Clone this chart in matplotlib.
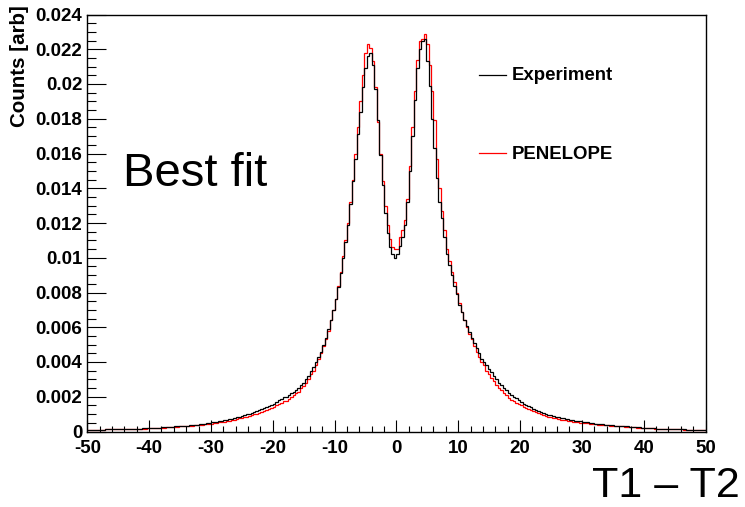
import numpy as np
import matplotlib
matplotlib.use("Agg")
import matplotlib.pyplot as plt
from matplotlib.lines import Line2D
from matplotlib.ticker import FixedLocator, MultipleLocator

# ---------------- data ----------------
x_range = (-50.0, 50.0)
n_bins = 250

experiment = [
    # -50 ... -39.2
    0.00010, 0.00010, 0.00010, 0.00011, 0.00011, 0.00011, 0.00011, 0.00012, 0.00012, 0.00012,
    0.00012, 0.00013, 0.00013, 0.00013, 0.00014, 0.00014, 0.00015, 0.00015, 0.00016, 0.00016,
    0.00017, 0.00017, 0.00018, 0.00018, 0.00019, 0.00020, 0.00020, 0.00021,
    # -38.8 ... -30.4
    0.00022, 0.00023, 0.00024, 0.00025, 0.00026, 0.00027, 0.00028, 0.00029, 0.00030, 0.00031,
    0.00032, 0.00033, 0.00034, 0.00036, 0.00037, 0.00039, 0.00040, 0.00042, 0.00044, 0.00046,
    0.00048, 0.00050,
    # -30.0 ... -20.4
    0.00052, 0.00054, 0.00056, 0.00059, 0.00062, 0.00065, 0.00068, 0.00071, 0.00074, 0.00078,
    0.00082, 0.00086, 0.00090, 0.00094, 0.00098, 0.00103, 0.00108, 0.00113, 0.00118, 0.00123,
    0.00128, 0.00134, 0.00140, 0.00146, 0.00153,
    # -20.0 ... -14.4
    0.00160, 0.00170, 0.00180, 0.00188, 0.00196, 0.00200, 0.00210, 0.00220, 0.00230, 0.00240,
    0.00250, 0.00270, 0.00280, 0.00300, 0.00320,
    # -14.0 ... -9.6
    0.0035, 0.0037, 0.0040, 0.0043, 0.0046, 0.0050, 0.0054, 0.0059, 0.0064, 0.0070,
    0.0076, 0.0083,
    # -9.2 ... -0.4
    0.0091, 0.0100, 0.0109, 0.0119, 0.0131, 0.0144, 0.0157, 0.0171, 0.0184, 0.0198,
    0.0209, 0.0216, 0.0218, 0.0211, 0.0197, 0.0179, 0.0159, 0.0142, 0.0126, 0.0114,
    0.0106, 0.0102, 0.0100,
    # 0.0 ... 9.6
    0.0102, 0.0107, 0.0112, 0.0119, 0.0132, 0.0150, 0.0170, 0.0191, 0.0209, 0.0220,
    0.0225, 0.0226, 0.0213, 0.0199, 0.0180, 0.0163, 0.0146, 0.0132, 0.0123, 0.0112,
    0.0102, 0.0096, 0.0090, 0.0084, 0.0079,
    # 10.0 ... 19.6
    0.0073, 0.0069, 0.0064, 0.0061, 0.0057, 0.0054, 0.0051, 0.0048, 0.0045, 0.0042,
    0.0040, 0.0038, 0.0036, 0.0034, 0.0032, 0.0030, 0.0028, 0.0027, 0.0025, 0.0024,
    0.0022, 0.0021, 0.0020, 0.0019, 0.0018,
    # 20.0 ... 29.6
    0.00170, 0.00160, 0.00153, 0.00146, 0.00140, 0.00132, 0.00126, 0.00120, 0.00114, 0.00108,
    0.00102, 0.00097, 0.00093, 0.00089, 0.00085, 0.00082, 0.00079, 0.00076, 0.00073, 0.00070,
    0.00067, 0.00064, 0.00062, 0.00060, 0.00058,
    # 30.0 ... 40.0
    0.00056, 0.00054, 0.00052, 0.00050, 0.00048, 0.00046, 0.00044, 0.00042, 0.00041, 0.00040,
    0.00038, 0.00037, 0.00036, 0.00034, 0.00033, 0.00032, 0.00031, 0.00030, 0.00029, 0.00028,
    0.00027, 0.00026, 0.00025, 0.00024, 0.00023, 0.00022,
    # 40.4 ... 49.6
    0.00021, 0.00020, 0.00019, 0.00018, 0.00017, 0.00016, 0.00016, 0.00015, 0.00015, 0.00014,
    0.00014, 0.00013, 0.00013, 0.00012, 0.00012, 0.00012, 0.00011, 0.00011, 0.00011, 0.00010,
    0.00010, 0.00010, 0.00010, 0.00010,
]

penelope = [
    # -50 ... -39.2
    0.00010, 0.00010, 0.00010, 0.00011, 0.00011, 0.00011, 0.00011, 0.00012, 0.00012, 0.00012,
    0.00012, 0.00012, 0.00013, 0.00013, 0.00013, 0.00013, 0.00014, 0.00014, 0.00015, 0.00015,
    0.00016, 0.00016, 0.00017, 0.00017, 0.00018, 0.00018, 0.00019, 0.00019,
    # -38.8 ... -30.4
    0.00020, 0.00021, 0.00022, 0.00023, 0.00024, 0.00025, 0.00026, 0.00027, 0.00028, 0.00029,
    0.00029, 0.00030, 0.00031, 0.00033, 0.00034, 0.00035, 0.00036, 0.00038, 0.00040, 0.00041,
    0.00043, 0.00045,
    # -30.0 ... -20.4
    0.00046, 0.00048, 0.00049, 0.00052, 0.00055, 0.00057, 0.00060, 0.00062, 0.00065, 0.00068,
    0.00072, 0.00075, 0.00079, 0.00082, 0.00085, 0.00090, 0.00094, 0.00098, 0.00103, 0.00107,
    0.00111, 0.00117, 0.00122, 0.00127, 0.00133,
    # -20.0 ... -14.4
    0.00141, 0.00150, 0.00159, 0.00166, 0.00173, 0.00178, 0.00188, 0.00198, 0.00208, 0.00219,
    0.00230, 0.00250, 0.00260, 0.00280, 0.00300,
    # -14.0 ... -9.6
    0.0033, 0.0035, 0.0038, 0.0042, 0.0045, 0.0049, 0.0053, 0.0058, 0.0064, 0.0070,
    0.0076, 0.0084,
    # -9.2 ... -0.4
    0.0092, 0.0101, 0.0110, 0.0120, 0.0132, 0.0145, 0.0160, 0.0175, 0.0190, 0.0205,
    0.0218, 0.0223, 0.0221, 0.0213, 0.0198, 0.0178, 0.0160, 0.0144, 0.0130, 0.0119,
    0.0111, 0.0106, 0.0105,
    # 0.0 ... 9.6
    0.0105, 0.0112, 0.0116, 0.0122, 0.0134, 0.0153, 0.0175, 0.0196, 0.0214, 0.0225,
    0.0226, 0.0229, 0.0223, 0.0211, 0.0196, 0.0179, 0.0157, 0.0140, 0.0127, 0.0116,
    0.0105, 0.0098, 0.0092, 0.0086, 0.0080,
    # 10.0 ... 19.6
    0.0074, 0.0069, 0.0064, 0.0060, 0.0056, 0.0053, 0.0049, 0.0046, 0.0043, 0.0040,
    0.0038, 0.0035, 0.0033, 0.0031, 0.0029, 0.0027, 0.0025, 0.0024, 0.0022, 0.0021,
    0.00194, 0.00184, 0.00175, 0.00166, 0.00157,
    # 20.0 ... 29.6
    0.00150, 0.00141, 0.00135, 0.00128, 0.00123, 0.00116, 0.00111, 0.00106, 0.00100, 0.00095,
    0.00090, 0.00085, 0.00082, 0.00078, 0.00075, 0.00072, 0.00069, 0.00067, 0.00064, 0.00062,
    0.00059, 0.00057, 0.00055, 0.00053, 0.00051,
    # 30.0 ... 40.0
    0.00050, 0.00049, 0.00047, 0.00045, 0.00043, 0.00042, 0.00040, 0.00038, 0.00037, 0.00036,
    0.00035, 0.00034, 0.00033, 0.00031, 0.00030, 0.00030, 0.00029, 0.00028, 0.00027, 0.00026,
    0.00025, 0.00024, 0.00023, 0.00022, 0.00021, 0.00021,
    # 40.4 ... 49.6
    0.00020, 0.00019, 0.00018, 0.00017, 0.00017, 0.00016, 0.00015, 0.00015, 0.00014, 0.00014,
    0.00013, 0.00013, 0.00013, 0.00012, 0.00012, 0.00011, 0.00011, 0.00011, 0.00010, 0.00010,
    0.00010, 0.00010, 0.00010, 0.00010,
]

x_ticks = [-50, -40, -30, -20, -10, 0, 10, 20, 30, 40, 50]
x_tick_labels = ["-50", "-40", "-30", "-20", "-10", "0", "10", "20", "30", "40", "50"]
y_ticks = [0, 0.002, 0.004, 0.006, 0.008, 0.01, 0.012, 0.014, 0.016, 0.018, 0.02, 0.022, 0.024]
y_tick_labels = ["0", "0.002", "0.004", "0.006", "0.008", "0.01", "0.012", "0.014",
                 "0.016", "0.018", "0.02", "0.022", "0.024"]
series_names = ["Experiment", "PENELOPE"]
x_title = "T1 \u2013 T2"
y_title = "Counts [arb]"
annotation = "Best fit"

# ---------------- plot ----------------
W, H = 745, 507
fig = plt.figure(figsize=(W / 100, H / 100), dpi=100)
fig.patch.set_facecolor("white")

left, right, top, bottom = 87.3, 705.5, 14.5, 431.5
ax = fig.add_axes([left / W, 1 - bottom / H, (right - left) / W, (bottom - top) / H])

edges = np.linspace(x_range[0], x_range[1], n_bins + 1)
ax.stairs(penelope, edges, color="#ff0000", lw=0.9, baseline=None)
ax.stairs(experiment, edges, color="black", lw=0.9, baseline=None)

ax.set_xlim(*x_range)
ax.set_ylim(y_ticks[0], y_ticks[-1])

for s in ax.spines.values():
    s.set_linewidth(1.0)
    s.set_color("black")

tick_font = dict(family="Liberation Sans", weight="bold", size=13.5)
ax.xaxis.set_major_locator(FixedLocator(x_ticks))
ax.set_xticklabels(x_tick_labels, **tick_font)
ax.xaxis.set_minor_locator(MultipleLocator(2))
ax.yaxis.set_major_locator(FixedLocator(y_ticks))
ax.set_yticklabels(y_tick_labels, **tick_font)
ax.yaxis.set_minor_locator(MultipleLocator(0.0005))

ax.tick_params(axis="x", which="major", direction="in", length=8.5, width=0.8, pad=6.0)
ax.tick_params(axis="x", which="minor", direction="in", length=4.6, width=0.8)
ax.tick_params(axis="y", which="major", direction="in", length=13.5, width=0.8, pad=3.5)
ax.tick_params(axis="y", which="minor", direction="in", length=6.5, width=0.8)

# axis titles (ROOT style)
fig.text(20 / W, 1 - 5 / H, y_title, rotation=90, ha="center", va="top",
         family="Liberation Sans", weight="bold", size=14.8)
fig.text(740 / W, 1 - 497 / H, x_title, ha="right", va="baseline",
         family="Liberation Sans", size=31)

# annotation
ax.text(123 / W, 1 - 186 / H, annotation, transform=fig.transFigure, ha="left",
        va="baseline", family="Liberation Sans", size=34)

# legend (manual, ROOT TLegend look)
leg_rows = [(series_names[0], "black", 75, 80), (series_names[1], "#ff0000", 153, 159)]
for name, col, ly, by in leg_rows:
    fig.add_artist(Line2D([479 / W, 506 / W], [1 - ly / H, 1 - ly / H],
                          color=col, lw=0.9, transform=fig.transFigure))
    fig.text(512 / W, 1 - by / H, name, ha="left", va="baseline",
             family="Liberation Sans", weight="bold", size=13.4)

fig.savefig("out.png", dpi=100, facecolor="white")
